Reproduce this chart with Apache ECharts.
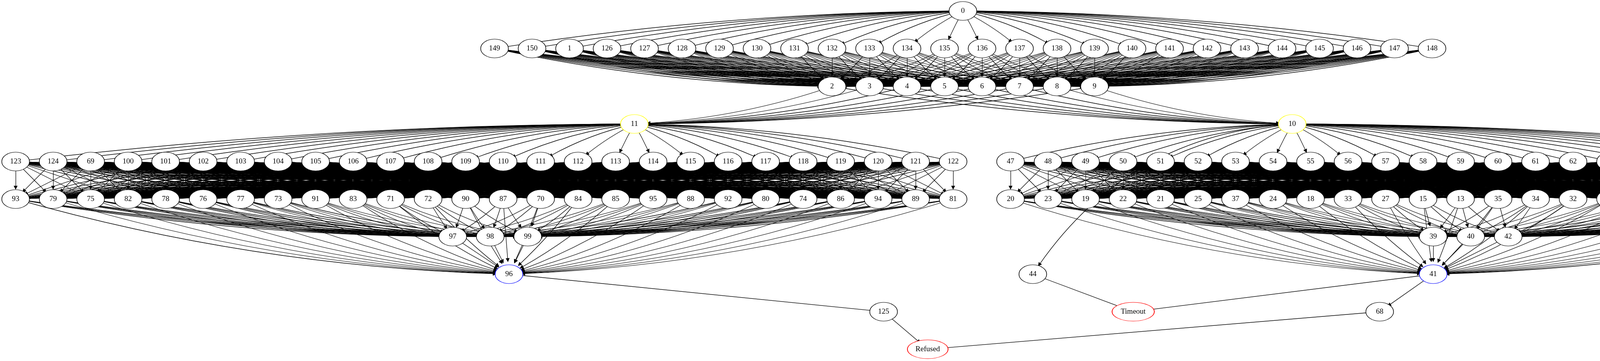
<!DOCTYPE html>
<html>
<head>
<meta charset="utf-8">
<script src="https://cdn.jsdelivr.net/npm/echarts@6/dist/echarts.min.js"></script>
<style>
    html, body { margin: 0; padding: 0; background: #fff; }
    #chart { width: 5029px; height: 923px; }
</style>
</head>
<body>
<div id="chart"></div>
<script>
// ranks of the state graph, left to right inside each rank
const root = ['0'];
const firstRow = ['149', '150', '1', '126', '127', '128', '129', '130', '131', '132', '133', '134', '135',
    '136', '137', '138', '139', '140', '141', '142', '143', '144', '145', '146', '147', '148'];
const secondRow = ['2', '3', '4', '5', '6', '7', '8', '9'];
const leftFan = ['123', '124', '69', '100', '101', '102', '103', '104', '105', '106', '107', '108', '109',
    '110', '111', '112', '113', '114', '115', '116', '117', '118', '119', '120', '121', '122'];
const rightFan = ['47', '48', '49', '50', '51', '52', '53', '54', '55', '56', '57', '58', '59', '60',
    '61', '62', '63', '64', '65', '66', '67', '12', '43', '45', '46'];
const leftMid = ['93', '79', '75', '82', '78', '76', '77', '73', '91', '83', '71', '72', '90', '87',
    '70', '84', '85', '95', '88', '92', '80', '74', '86', '94', '89', '81'];
const rightMid = ['20', '23', '19', '22', '21', '25', '37', '24', '18', '33', '27', '15', '13', '35',
    '34', '32', '30', '17', '31', '36', '28', '26', '29', '38', '14', '16'];
const leftLow = ['97', '98', '99'];
const rightLow = ['39', '40', '42'];

// edges: every node of the first list points to every node of the second
const edgeGroups = [
    [root, firstRow, 'out'],
    [firstRow, secondRow, 'in'],
    [secondRow, ['11'], 'in'],
    [secondRow, ['10'], 'in'],
    [['11'], leftFan, 'out'],
    [['10'], rightFan, 'out'],
    [['10'], ['44'], 'wide'],
    [leftFan, leftMid, 'flat'],
    [rightFan, rightMid, 'flat'],
    [leftMid, leftLow, 'in'],
    [leftMid, ['96'], 'in'],
    [rightMid, rightLow, 'in'],
    [rightMid, ['41'], 'in'],
    [leftLow, ['96'], 'flat'],
    [rightLow, ['41'], 'flat'],
    [['96'], ['125'], 'flat'],
    [['125'], ['Refused'], 'flat'],
    [['44'], ['Timeout'], 'flat'],
    [['41'], ['Timeout'], 'flat'],
    [['41'], ['68'], 'flat'],
    [['68'], ['Refused'], 'flat']
];

// placement: nodes, rank, x of first node (pixels, 96 apart)
const rankY = [28, 124, 221, 317, 413, 509, 605, 701, 797, 893];
const step = 96;
const placement = [
    [root, 0, 2465],
    [firstRow, 1, 1266],
    [secondRow, 2, 2130],
    [['11'], 3, 1624],
    [['10'], 3, 3308],
    [leftFan, 4, 40],
    [rightFan, 4, 2587],
    [leftMid, 5, 40],
    [rightMid, 5, 2587],
    [leftLow, 6, 1159],
    [rightLow, 6, 3669],
    [['96'], 7, 1303],
    [['41'], 7, 3669],
    [['44'], 7, 2644],
    [['125'], 8, 2262],
    [['68'], 8, 3532],
    [['Timeout'], 8, 2901],
    [['Refused'], 9, 2375]
];

const pos = {};
placement.forEach(([names, rank, x0]) => {
    names.forEach((n, i) => { pos[n] = [x0 + i * step, rankY[rank]]; });
});

const nodeColor = { '11': '#ffff00', '10': '#ffff00', '96': '#0000ff', '41': '#0000ff', 'Refused': '#ff0000', 'Timeout': '#ff0000' };
const wideNode = { 'Timeout': 108, 'Refused': 104 };
const hubSize = { '96': 72, '41': 72, '11': 72, '10': 72, '2': 64, '9': 64, '99': 64, '39': 64 };

// bend edges a little like dot splines
function bend(a, b, kind) {
    const dx = b[0] - a[0], dy = b[1] - a[1];
    if (kind === 'flat' || dx === 0) return 0;
    if (kind === 'wide') return 0.25 * Math.sign(dx);
    const k = 0.5 * dy * Math.abs(dx) / (dx * dx + 9 * dy * dy);
    return kind === 'out' ? Math.sign(dx) * k : -Math.sign(dx) * k;
}

const links = [];
edgeGroups.forEach(([from, to, kind]) => {
    from.forEach(s => to.forEach(t => {
        links.push({ source: s, target: t, lineStyle: { curveness: bend(pos[s], pos[t], kind) } });
    }));
});

const names = Object.keys(pos);
const ellipse = 'path://M0 50A50 50 0 1 1 100 50A50 50 0 1 1 0 50Z';

const chart = echarts.init(document.getElementById('chart'));
chart.setOption({
    animation: false,
    backgroundColor: '#fff',
    grid: { left: 0, right: 0, top: 0, bottom: 0 },
    xAxis: { type: 'value', min: 0, max: 5029, show: false },
    yAxis: { type: 'value', min: 0, max: 923, inverse: true, show: false },
    series: [
        {
            type: 'graph',
            layout: 'none',
            coordinateSystem: 'cartesian2d',
            silent: true,
            z: 2,
            data: names.map(n => ({ name: n, value: pos[n], symbolSize: hubSize[n] || 58 })),
            links: links,
            itemStyle: { opacity: 0 },
            label: { show: false },
            edgeSymbol: ['none', 'triangle'],
            edgeSymbolSize: 10,
            lineStyle: { color: '#000', width: 1.3, opacity: 1 }
        },
        {
            type: 'scatter',
            silent: true,
            z: 3,
            symbol: ellipse,
            data: names.map(n => ({
                name: n,
                value: pos[n],
                symbolSize: [wideNode[n] || 71, 48],
                itemStyle: { borderColor: nodeColor[n] || '#000' }
            })),
            itemStyle: { color: '#fff', borderColor: '#000', borderWidth: 1.3, opacity: 1 },
            label: {
                show: true,
                position: 'inside',
                formatter: '{b}',
                color: '#000',
                fontFamily: 'Liberation Serif',
                fontSize: 19
            }
        }
    ]
});
</script>
</body>
</html>
